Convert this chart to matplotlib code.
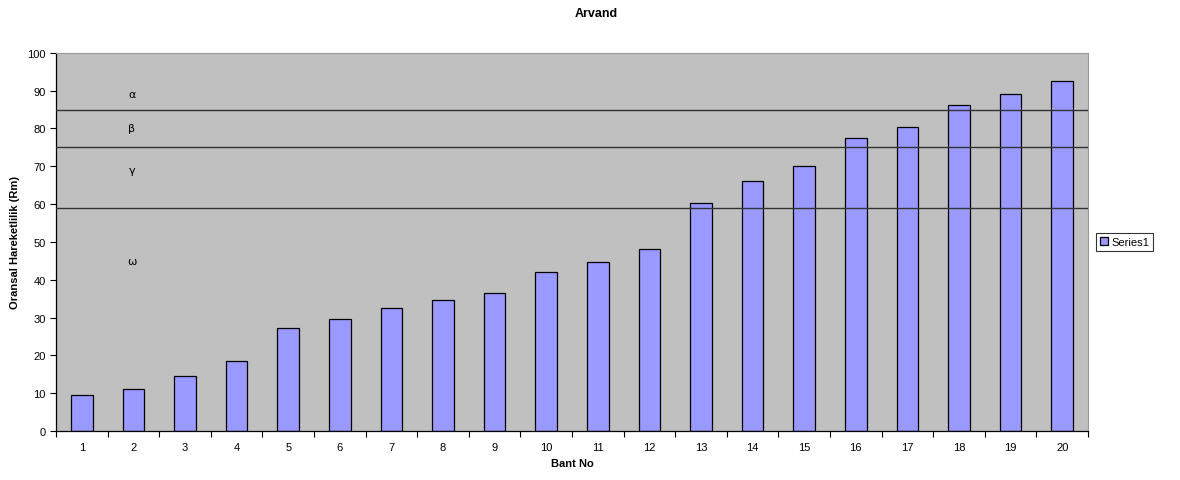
import matplotlib.pyplot as plt
import numpy as np

plt.rcParams['font.family'] = ['Liberation Sans', 'DejaVu Sans']

# data
bant_no = list(range(1, 21))
rm_values = [9.5, 11.1, 14.5, 18.5, 27.2, 29.6, 32.5, 34.6, 36.5, 42.0,
             44.7, 48.1, 60.3, 66.1, 70.1, 77.5, 80.4, 86.2, 89.1, 92.6]
class_limits = [85, 75, 59]
class_names = ['α', 'β', 'γ', 'ω']
class_label_y = [89, 80, 69, 45]

fig = plt.figure(figsize=(11.8, 4.81), dpi=100)
ax = fig.add_axes([0.0475, 0.102, 0.8745, 0.786])
ax.set_facecolor('#C0C0C0')

ax.bar(bant_no, rm_values, width=0.42, color='#9999FF', edgecolor='black',
       linewidth=0.9, label='Series1', zorder=2)

for lim in class_limits:
    ax.axhline(lim, color='#333333', linewidth=1.0, zorder=3)

for name, y in zip(class_names, class_label_y):
    ax.text(1.97, y, name, ha='center', va='center', fontsize=8,
            family=['DejaVu Sans'], zorder=4)

ax.set_xlim(0.5, 20.5)
ax.set_ylim(0, 100)
ax.set_yticks(np.arange(0, 101, 10))
ax.set_xticks(bant_no)
ax.set_xticks(np.arange(0.5, 21, 1), minor=True)
ax.tick_params(axis='x', which='major', length=0, labelsize=8, pad=8)
ax.tick_params(axis='x', which='minor', length=4, direction='out', width=0.8)
ax.tick_params(axis='y', length=4, direction='out', labelsize=8, width=0.8)

for side in ['top', 'right']:
    ax.spines[side].set_color('#999999')
for side in ['left', 'bottom']:
    ax.spines[side].set_color('black')
    ax.spines[side].set_linewidth(0.9)

ax.set_xlabel('Bant No', fontsize=8, fontweight='bold', labelpad=4)
ax.set_ylabel('Oransal Hareketlilik (Rm)', fontsize=8, fontweight='bold', labelpad=5)
fig.text(0.505, 0.97, 'Arvand', ha='center', va='center', fontsize=9, fontweight='bold')

leg = ax.legend(loc='center left', bbox_to_anchor=(1.008, 0.5), fontsize=8,
                frameon=True, fancybox=False, edgecolor='black',
                handlelength=0.7, handleheight=0.7, handletextpad=0.3,
                borderpad=0.35, borderaxespad=0)
leg.get_frame().set_linewidth(0.8)

fig.savefig('out.png', dpi=100)
